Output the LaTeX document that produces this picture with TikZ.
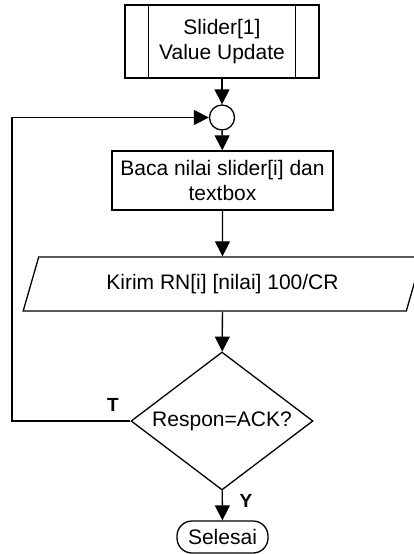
\documentclass[tikz,border=0pt]{standalone}
\usepackage{fontspec}
\setmainfont{Liberation Sans}
\usetikzlibrary{arrows.meta, shapes.geometric}

\begin{document}
\begin{tikzpicture}[x=1pt, y=-1pt,
    every node/.style={font=\fontsize{21}{24.5}\selectfont, line width=1.3pt},
    subbox/.style={draw, minimum width=194pt, minimum height=73pt, align=center, inner sep=0pt},
    procbox/.style={draw, minimum width=221pt, minimum height=59pt, align=center, inner sep=0pt},
    iobox/.style={draw, trapezium, trapezium stretches=true, trapezium left angle=63.4, trapezium right angle=116.6, minimum width=399pt, minimum height=54pt, inner sep=0pt},
    decbox/.style={draw, diamond, aspect=1.32, minimum width=182pt, minimum height=138pt, inner sep=0pt},
    endbox/.style={draw, rounded corners=15pt, minimum width=91pt, minimum height=32pt, inner sep=0pt},
    joinpt/.style={draw, circle, minimum size=25pt, inner sep=0pt},
    lbl/.style={font=\fontsize{19}{22}\selectfont\bfseries},
    arr/.style={line width=1.3pt, -{Triangle[length=15pt, width=15pt]}}]
        \useasboundingbox (0,0) rectangle (414,554);
        \node[subbox] (sub) at (222,41.5) {Slider[1]\\Value Update};
        \draw[line width=1.3pt] ([xshift=24pt]sub.north west) -- ([xshift=24pt]sub.south west);
        \draw[line width=1.3pt] ([xshift=-24pt]sub.north east) -- ([xshift=-24pt]sub.south east);
        \node[joinpt] (join) at (222,117.5) {};
        \node[procbox] (baca) at (222.5,180.5) {Baca nilai slider[i] dan\\textbox};
        \node[iobox] (kirim) at (222.5,284) {Kirim RN[i] [nilai] 100/CR};
        \node[decbox] (cek) at (222,421) {Respon=ACK?};
        \node[endbox] (selesai) at (222.5,537) {Selesai};
        \coordinate (loop) at (12,117.5);
        % alur
        \draw[arr] (sub) -- (join);
        \draw[arr] (join) -- (baca);
        \draw[arr] (baca) -- (kirim);
        \draw[arr] (kirim) -- (cek);
        \draw[arr] (cek) -- (selesai);
        \draw[arr] (cek.west) -| (loop) -- (join.west);
        \node[lbl] (tlabel) at (113,405) {T};
        \node[lbl] (ylabel) at (246,501) {Y};
\end{tikzpicture}
\end{document}
